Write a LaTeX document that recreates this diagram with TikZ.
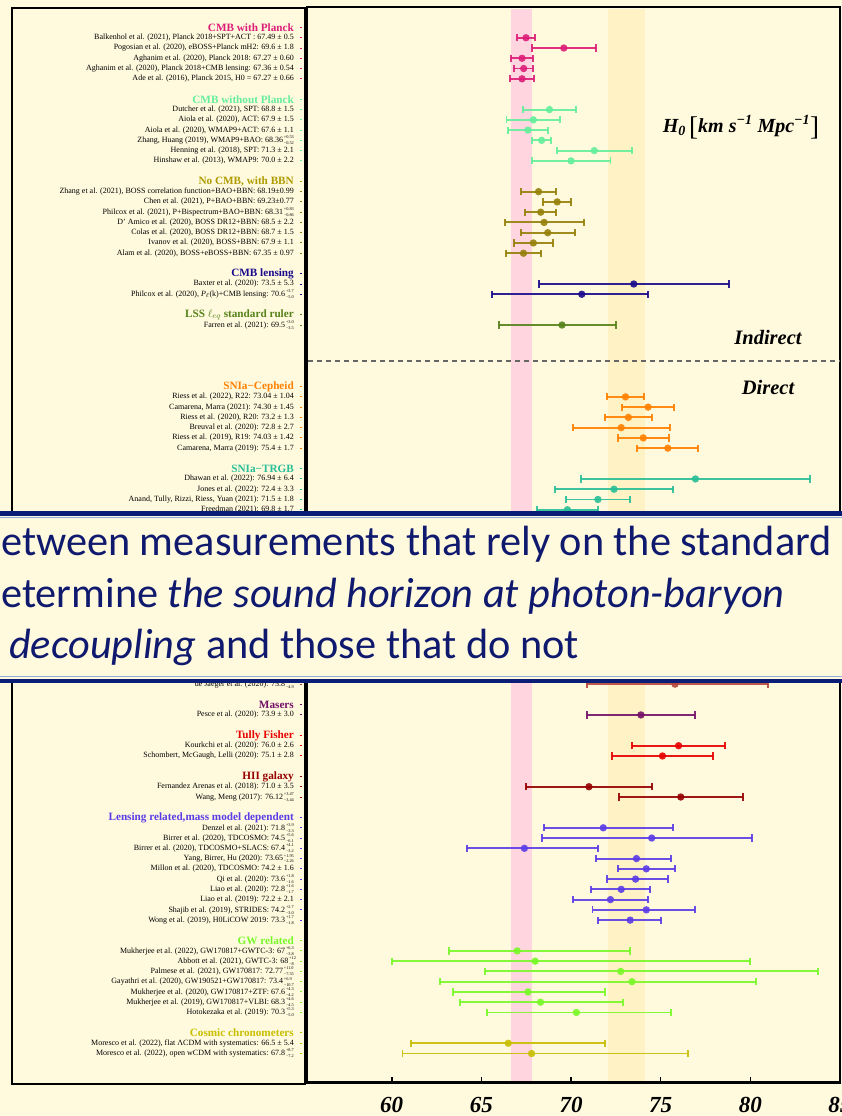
\documentclass[tikz,border=0pt]{standalone}
\usepackage{fontspec}
\setmainfont{Liberation Serif}
\newfontfamily\bannerfont{Carlito}
\definecolor{bg}{RGB}{255,250,222}
\definecolor{pinkband}{RGB}{255,214,224}
\definecolor{yelband}{RGB}{255,242,196}
\definecolor{navy}{RGB}{10,30,120}
\definecolor{bantext}{RGB}{15,25,110}
\definecolor{lightblue}{RGB}{150,170,220}
\definecolor{cmbp}{RGB}{220,30,120}
\definecolor{cmbnp}{RGB}{100,238,155}
\definecolor{bbn}{RGB}{150,128,10}
\definecolor{bbnhead}{RGB}{175,155,0}
\definecolor{lens}{RGB}{25,10,140}
\definecolor{lss}{RGB}{85,130,25}
\definecolor{ceph}{RGB}{255,128,0}
\definecolor{trgb}{RGB}{40,190,150}
\definecolor{snii}{RGB}{180,70,60}
\definecolor{maser}{RGB}{115,15,105}
\definecolor{tully}{RGB}{230,0,0}
\definecolor{hii}{RGB}{150,0,0}
\definecolor{lensm}{RGB}{90,60,230}
\definecolor{gw}{RGB}{120,248,40}
\definecolor{cc}{RGB}{200,190,0}
\newcommand\ud[2]{\kern0.8pt\rlap{\raisebox{3.8pt}{\fontsize{4.3}{5}\selectfont #1}}\raisebox{-2.1pt}{\fontsize{4.3}{5}\selectfont #2}}
\newcommand\erow[6]{%
  \pgfmathsetmacro\yy{27.5+10.26*#1}%
  \pgfmathsetmacro\xc{571+(#3-70)*17.93}%
  \pgfmathsetmacro\xl{571+(#3-#4-70)*17.93}%
  \pgfmathsetmacro\xr{571+(#3+#5-70)*17.93}%
  \node[lbl] (lab#1) at (294,\yy) {#6};
  \draw[tk,#2] (299.5,\yy) -- (302,\yy);
  \draw[ebar,#2] (\xl,\yy) -- (\xr,\yy);
  \draw[ebar,#2] (\xl,\yy-3.6) -- (\xl,\yy+3.6);
  \draw[ebar,#2] (\xr,\yy-3.6) -- (\xr,\yy+3.6);
  \fill[#2,opacity=0.9] (\xc,\yy) circle (3.7pt);
}
\newcommand\ghead[3]{%
  \pgfmathsetmacro\yy{27.5+10.26*#1}%
  \node[hd,text=#2] (head#1) at (294,\yy) {#3};
  \draw[tk,#2] (299.5,\yy) -- (302,\yy);
}
\begin{document}
\begin{tikzpicture}[x=1pt,y=-1pt,
  lbl/.style={anchor=east,inner sep=0pt,font=\fontsize{8}{9}\selectfont},
  hd/.style={anchor=east,inner sep=0pt,font=\fontsize{11.2}{12}\selectfont\bfseries},
  tk/.style={line width=1pt},
  ebar/.style={line width=1.9pt,opacity=0.9},
  frame/.style={line width=2.6pt,black},
  ticklab/.style={font=\fontsize{23}{24}\selectfont\bfseries\itshape,inner sep=0pt},
  side/.style={font=\fontsize{20.5}{22}\selectfont\bfseries\itshape,inner sep=0pt},
  bann/.style={font=\bannerfont\fontsize{42.3}{44}\selectfont,text=bantext,inner sep=0pt,anchor=base west}]
\useasboundingbox (0,0) rectangle (842,1116);
\fill[bg] (0,0) rectangle (842,1116);
% bands
\fill[pinkband] ({571+(66.67-70)*17.93},9) rectangle ({571+(67.83-70)*17.93},1081.5);
\fill[yelband] ({571+(72.04-70)*17.93},9) rectangle ({571+(74.1-70)*17.93},1081.5);
% frames
\draw[frame] (12,8) rectangle (305,1084);
\draw[frame] (307,7) rectangle (840,1082.7);
% dashed separator
\draw[gray!80!black,line width=1.2pt,dash pattern=on 5pt off 4pt] (308,361) -- (840,361);
% axis ticks and labels
\foreach \v in {60,65,70,75,80,85}{
  \draw[line width=1.6pt] ({571+(\v-70)*17.93},1082.7) -- ({571+(\v-70)*17.93},1076.5);
  \node[ticklab] (t\v) at ({571+(\v-70)*17.93},1105) {\v};
}
% side labels
\node[font=\fontsize{20}{22}\selectfont\bfseries\itshape,inner sep=0pt] (hlab) at (741,127)
  {H\textsubscript{0}\,\raisebox{-3pt}{\fontsize{27}{27}\selectfont\mdseries\upshape[}km s\textsuperscript{−1} Mpc\textsuperscript{−1}\raisebox{-3pt}{\fontsize{27}{27}\selectfont\mdseries\upshape]}};
\node[side] (ind) at (768,337) {Indirect};
\node[side] (dir) at (768,387) {Direct};
% CMB with Planck
\ghead{0}{cmbp}{CMB with Planck}
\erow{1}{cmbp}{67.49}{0.5}{0.5}{Balkenhol et al. (2021), Planck 2018+SPT+ACT : 67.49 ± 0.5}
\erow{2}{cmbp}{69.6}{1.8}{1.8}{Pogosian et al. (2020), eBOSS+Planck mH2: 69.6 ± 1.8}
\erow{3}{cmbp}{67.27}{0.60}{0.60}{Aghanim et al. (2020), Planck 2018: 67.27 ± 0.60}
\erow{4}{cmbp}{67.36}{0.54}{0.54}{Aghanim et al. (2020), Planck 2018+CMB lensing: 67.36 ± 0.54}
\erow{5}{cmbp}{67.27}{0.66}{0.66}{Ade et al. (2016), Planck 2015, H0 = 67.27 ± 0.66}
% CMB without Planck
\ghead{7}{cmbnp}{CMB without Planck}
\erow{8}{cmbnp}{68.8}{1.5}{1.5}{Dutcher et al. (2021), SPT: 68.8 ± 1.5}
\erow{9}{cmbnp}{67.9}{1.5}{1.5}{Aiola et al. (2020), ACT: 67.9 ± 1.5}
\erow{10}{cmbnp}{67.6}{1.1}{1.1}{Aiola et al. (2020), WMAP9+ACT: 67.6 ± 1.1}
\erow{11}{cmbnp}{68.36}{0.52}{0.53}{Zhang, Huang (2019), WMAP9+BAO: 68.36\ud{+0.53}{−0.52}}
\erow{12}{cmbnp}{71.3}{2.1}{2.1}{Henning et al. (2018), SPT: 71.3 ± 2.1}
\erow{13}{cmbnp}{70.0}{2.2}{2.2}{Hinshaw et al. (2013), WMAP9: 70.0 ± 2.2}
% No CMB, with BBN
\ghead{15}{bbnhead}{No CMB, with BBN}
\erow{16}{bbn}{68.19}{0.99}{0.99}{Zhang et al. (2021), BOSS correlation function+BAO+BBN: 68.19±0.99}
\erow{17}{bbn}{69.23}{0.77}{0.77}{Chen et al. (2021), P+BAO+BBN: 69.23±0.77}
\erow{18}{bbn}{68.31}{0.86}{0.83}{Philcox et al. (2021), P+Bispectrum+BAO+BBN: 68.31\ud{+0.83}{−0.86}}
\erow{19}{bbn}{68.5}{2.2}{2.2}{D' Amico et al. (2020), BOSS DR12+BBN: 68.5 ± 2.2}
\erow{20}{bbn}{68.7}{1.5}{1.5}{Colas et al. (2020), BOSS DR12+BBN: 68.7 ± 1.5}
\erow{21}{bbn}{67.9}{1.1}{1.1}{Ivanov et al. (2020), BOSS+BBN: 67.9 ± 1.1}
\erow{22}{bbn}{67.35}{0.97}{0.97}{Alam et al. (2020), BOSS+eBOSS+BBN: 67.35 ± 0.97}
% CMB lensing
\ghead{24}{lens}{CMB lensing}
\erow{25}{lens}{73.5}{5.3}{5.3}{Baxter et al. (2020): 73.5 ± 5.3}
\erow{26}{lens}{70.6}{5.0}{3.7}{Philcox et al. (2020), \textit{P}\textsubscript{$\ell$}(k)+CMB lensing: 70.6\ud{+3.7}{−5.0}}
% LSS
\ghead{28}{lss}{LSS $\ell_{eq}$ standard ruler}
\erow{29}{lss}{69.5}{3.5}{3.0}{Farren et al. (2021): 69.5\ud{+3.0}{−3.5}}
% SNIa-Cepheid
\ghead{35}{ceph}{SNIa−Cepheid}
\erow{36}{ceph}{73.04}{1.04}{1.04}{Riess et al. (2022), R22: 73.04 ± 1.04}
\erow{37}{ceph}{74.30}{1.45}{1.45}{Camarena, Marra (2021): 74.30 ± 1.45}
\erow{38}{ceph}{73.2}{1.3}{1.3}{Riess et al. (2020), R20: 73.2 ± 1.3}
\erow{39}{ceph}{72.8}{2.7}{2.7}{Breuval et al. (2020): 72.8 ± 2.7}
\erow{40}{ceph}{74.03}{1.42}{1.42}{Riess et al. (2019), R19: 74.03 ± 1.42}
\erow{41}{ceph}{75.4}{1.7}{1.7}{Camarena, Marra (2019): 75.4 ± 1.7}
% SNIa-TRGB
\ghead{43}{trgb}{SNIa−TRGB}
\erow{44}{trgb}{76.94}{6.4}{6.4}{Dhawan et al. (2022): 76.94 ± 6.4}
\erow{45}{trgb}{72.4}{3.3}{3.3}{Jones et al. (2022): 72.4 ± 3.3}
\erow{46}{trgb}{71.5}{1.8}{1.8}{Anand, Tully, Rizzi, Riess, Yuan (2021): 71.5 ± 1.8}
\erow{47}{trgb}{69.8}{1.7}{1.7}{Freedman (2021): 69.8 ± 1.7}
% partially hidden row
\erow{64}{snii}{75.8}{4.9}{5.2}{de Jaeger et al. (2020): 75.8\ud{+5.2}{−4.9}}
% Masers
\ghead{66}{maser}{Masers}
\erow{67}{maser}{73.9}{3.0}{3.0}{Pesce et al. (2020): 73.9 ± 3.0}
% Tully Fisher
\ghead{69}{tully}{Tully Fisher}
\erow{70}{tully}{76.0}{2.6}{2.6}{Kourkchi et al. (2020): 76.0 ± 2.6}
\erow{71}{tully}{75.1}{2.8}{2.8}{Schombert, McGaugh, Lelli (2020): 75.1 ± 2.8}
% HII galaxy
\ghead{73}{hii}{HII galaxy}
\erow{74}{hii}{71.0}{3.5}{3.5}{Fernandez Arenas et al. (2018): 71.0 ± 3.5}
\erow{75}{hii}{76.12}{3.44}{3.47}{Wang, Meng (2017): 76.12\ud{+3.47}{−3.44}}
% Lensing related
\ghead{77}{lensm}{Lensing related,mass model dependent}
\erow{78}{lensm}{71.8}{3.3}{3.9}{Denzel et al. (2021): 71.8\ud{+3.9}{−3.3}}
\erow{79}{lensm}{74.5}{6.1}{5.6}{Birrer et al. (2020), TDCOSMO: 74.5\ud{+5.6}{−6.1}}
\erow{80}{lensm}{67.4}{3.2}{4.1}{Birrer et al. (2020), TDCOSMO+SLACS: 67.4\ud{+4.1}{−3.2}}
\erow{81}{lensm}{73.65}{2.26}{1.95}{Yang, Birrer, Hu (2020): 73.65\ud{+1.95}{−2.26}}
\erow{82}{lensm}{74.2}{1.6}{1.6}{Millon et al. (2020), TDCOSMO: 74.2 ± 1.6}
\erow{83}{lensm}{73.6}{1.6}{1.8}{Qi et al. (2020): 73.6\ud{+1.8}{−1.6}}
\erow{84}{lensm}{72.8}{1.7}{1.6}{Liao et al. (2020): 72.8\ud{+1.6}{−1.7}}
\erow{85}{lensm}{72.2}{2.1}{2.1}{Liao et al. (2019): 72.2 ± 2.1}
\erow{86}{lensm}{74.2}{3.0}{2.7}{Shajib et al. (2019), STRIDES: 74.2\ud{+2.7}{−3.0}}
\erow{87}{lensm}{73.3}{1.8}{1.7}{Wong et al. (2019), H0LiCOW 2019: 73.3\ud{+1.7}{−1.8}}
% GW related
\ghead{89}{gw}{GW related}
\erow{90}{gw}{67}{3.8}{6.3}{Mukherjee et al. (2022), GW170817+GWTC-3: 67\ud{+6.3}{−3.8}}
\erow{91}{gw}{68}{8}{12}{Abbott et al. (2021), GWTC-3: 68\ud{+12}{−8}}
\erow{92}{gw}{72.77}{7.55}{11.0}{Palmese et al. (2021), GW170817: 72.77\ud{+11.0}{−7.55}}
\erow{93}{gw}{73.4}{10.7}{6.9}{Gayathri et al. (2020), GW190521+GW170817: 73.4\ud{+6.9}{−10.7}}
\erow{94}{gw}{67.6}{4.2}{4.3}{Mukherjee et al. (2020), GW170817+ZTF: 67.6\ud{+4.3}{−4.2}}
\erow{95}{gw}{68.3}{4.5}{4.6}{Mukherjee et al. (2019), GW170817+VLBI: 68.3\ud{+4.6}{−4.5}}
\erow{96}{gw}{70.3}{5.0}{5.3}{Hotokezaka et al. (2019): 70.3\ud{+5.3}{−5.0}}
% Cosmic chronometers
\ghead{98}{cc}{Cosmic chronometers}
\erow{99}{cc}{66.5}{5.4}{5.4}{Moresco et al. (2022), flat ΛCDM with systematics: 66.5 ± 5.4}
\erow{100}{cc}{67.8}{7.2}{8.7}{Moresco et al. (2022), open wCDM with systematics: 67.8\ud{+8.7}{−7.2}}
% banner
\fill[bg] (0,511) rectangle (842,683);
\fill[navy] (0,511) rectangle (842,515.5);
\draw[lightblue,line width=0.8pt] (0,517.5) -- (842,517.5);
\draw[lightblue,line width=0.8pt] (0,676.5) -- (842,676.5);
\fill[navy] (0,678.5) rectangle (842,683);
\node[bann] (b1) at (1,555) {etween measurements that rely on the standard};
\node[bann] (b2) at (1,607) {etermine \textit{the sound horizon at photon-baryon}};
\node[bann] (b3) at (9,658) {\textit{decoupling} and those that do not};
\end{tikzpicture}
\end{document}
